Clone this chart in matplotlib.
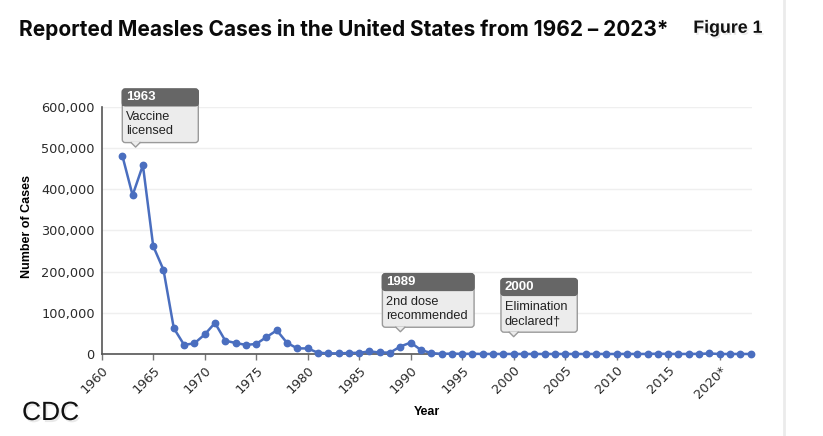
import matplotlib
matplotlib.use('Agg')
from matplotlib import pyplot as plt
from matplotlib import patheffects
from matplotlib.patches import FancyBboxPatch, Rectangle, Polygon
from matplotlib.lines import Line2D
from matplotlib.transforms import IdentityTransform
from matplotlib.ticker import FuncFormatter

# reported measles cases per year
years = list(range(1962, 2024))
cases = [481530, 385156, 458083, 261904, 204136, 62705, 22231, 25826, 47351, 75290,
         32275, 26690, 22094, 24374, 41126, 57345, 26871, 13597, 13506, 3124,
         1714, 1497, 2587, 2822, 6282, 3655, 3396, 18193, 27786, 9643,
         2237, 312, 963, 309, 508, 138, 100, 100, 86, 116,
         44, 56, 37, 66, 55, 43, 140, 71, 63, 220,
         55, 187, 667, 188, 86, 120, 375, 1274, 13, 49,
         121, 59]

tick_years = list(range(1960, 2021, 5))
tick_labels = [str(y) for y in tick_years[:-1]] + ['2020*']
y_ticks = [0, 100000, 200000, 300000, 400000, 500000, 600000]

# milestone notes: year, header, body
note_years = [1963, 1989, 2000]
note_heads = ['1963', '1989', '2000']
note_bodies = ['Vaccine\nlicensed', '2nd dose\nrecommended', 'Elimination\ndeclared\u2020']

# layout of the notes (tip height in data units, box offsets in pixels)
note_tip_y = [502000, 54000, 42000]
note_tip_dx = [3, 0, 0]
note_left = [-10.3, -18, -12.7]
note_width = [76, 91.7, 76.3]

W, H = 823, 436
fig = plt.figure(figsize=(W / 100, H / 100), dpi=100)
fig.patch.set_facecolor('white')

ax = fig.add_axes([101.7 / W, (H - 354) / H, 650.4 / W, 247.3 / H])
ax.plot(years, cases, color='#4a6ebf', lw=1.8, marker='o', ms=4.6, clip_on=False, zorder=3)
ax.set_xlim(1960, 2023.15)
ax.set_ylim(0, 600000)

for s in ['top', 'right']:
    ax.spines[s].set_visible(False)
for s in ['left', 'bottom']:
    ax.spines[s].set_color('#555555')
    ax.spines[s].set_linewidth(1.2)

ax.set_yticks(y_ticks)
ax.yaxis.set_major_formatter(FuncFormatter(lambda v, p: f'{int(v):,}'))
ax.tick_params(axis='y', length=0, pad=5, labelsize=9.3, labelcolor='#2a2a2a')
ax.set_xticks(tick_years)
ax.set_xticklabels(tick_labels, rotation=45, ha='right', va='top', rotation_mode='anchor')
ax.tick_params(axis='x', length=4, width=1, color='#777777', pad=3, labelsize=9.3, labelcolor='#2a2a2a')
ax.yaxis.grid(True, color='#efefef', lw=1)
ax.set_axisbelow(True)

ax.set_ylabel('Number of Cases', family='Liberation Sans', fontweight='bold', fontsize=9)
ax.yaxis.label.set_va('center')
ax.yaxis.set_label_coords(-75 / 650.4, 0.5 + 4 / 247.3)
ax.set_xlabel('Year', family='Liberation Sans', fontweight='bold', fontsize=9)
ax.xaxis.set_label_coords((426.5 - 101.7) / 650.4, -(411.7 - 354) / 247.3)
ax.xaxis.label.set_va('center')

fig.text(19 / W, 1 - 30 / H, 'Reported Measles Cases in the United States from 1962 \u2013 2023*',
         family='Inter', fontweight='bold', fontsize=15.0, va='center', ha='left', color='#0a0a0a')

shadow = [patheffects.withSimplePatchShadow(offset=(1.2, -1.5), shadow_rgbFace='#aaaaaa', alpha=0.25)]
fig.text(693.3 / W, 1 - 28.3 / H, 'Figure 1', family='Liberation Sans', fontweight='bold',
         fontsize=12.8, va='center', ha='left', color='#111111', path_effects=shadow)
fig.text(22 / W, 1 - 413 / H, 'CDC', family='Liberation Sans', fontsize=19,
         va='center', ha='left', color='#111111', path_effects=shadow)

# right border of the page
fig.add_artist(Line2D([784 / W, 784 / W], [0, 1], color='#ebebeb', lw=2))

# draw the note boxes in pixel space
ident = IdentityTransform()
head_h, body_h, tip_h = 16.8, 36.8, 4.5
for yr, head, body, ty, tdx, lx, w in zip(note_years, note_heads, note_bodies,
                                         note_tip_y, note_tip_dx, note_left, note_width):
    px, py = ax.transData.transform((yr, ty))
    base_x = ax.transData.transform((yr, 0))[0]
    tip_x = base_x + tdx
    left = base_x + lx
    bottom = py + tip_h
    box = FancyBboxPatch((left, bottom), w, body_h + head_h,
                         boxstyle='round,pad=0,rounding_size=3', transform=ident,
                         facecolor='#ececec', edgecolor='#9a9a9a', lw=1, zorder=5)
    fig.add_artist(box)
    hdr = FancyBboxPatch((left, bottom + body_h), w, head_h,
                         boxstyle='round,pad=0,rounding_size=3', transform=ident,
                         facecolor='#666666', edgecolor='#666666', lw=1, zorder=6)
    fig.add_artist(hdr)
    fig.add_artist(Rectangle((left, bottom + body_h), w, head_h / 2, transform=ident,
                             facecolor='#666666', edgecolor='none', zorder=6))
    tri = Polygon([(tip_x - 4.5, bottom + 0.6), (tip_x, py), (tip_x + 4.5, bottom + 0.6)],
                  closed=True, transform=ident, facecolor='#ececec', edgecolor='none', zorder=7)
    fig.add_artist(tri)
    fig.add_artist(Line2D([tip_x - 4.5, tip_x, tip_x + 4.5], [bottom, py, bottom],
                          transform=ident, color='#9a9a9a', lw=1, zorder=7))
    fig.text(left + 4, bottom + body_h + head_h / 2, head, transform=ident,
             family='Liberation Sans', fontweight='bold', fontsize=9.5, color='white',
             va='center', ha='left', zorder=8)
    for i, line in enumerate(body.split('\n')):
        fig.text(left + 4, bottom + body_h - 11.7 - 14 * i, line, transform=ident,
                 family='Liberation Sans', fontsize=9.2, color='#222222',
                 va='center', ha='left', zorder=8)

fig.savefig('out.png', dpi=100, facecolor='white')
